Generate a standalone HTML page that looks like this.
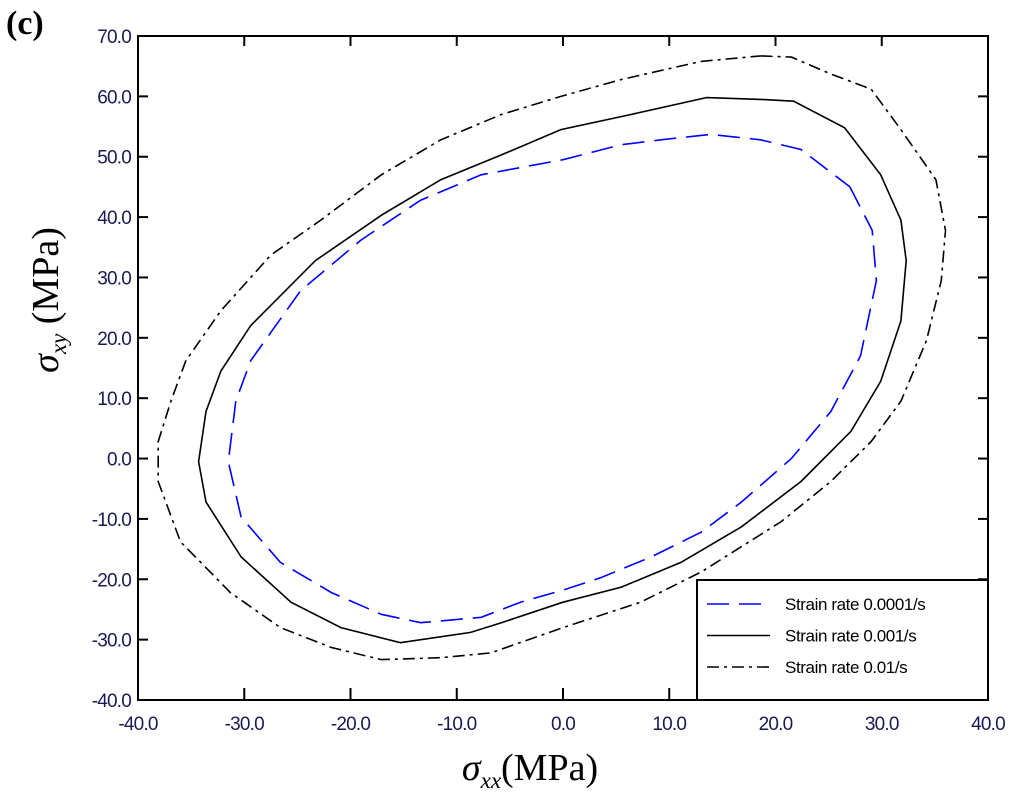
<!DOCTYPE html>
<html><head><meta charset="utf-8"><style>
html,body{margin:0;padding:0;background:#fff;}
svg{display:block;}
.tk{font-family:"Liberation Sans",sans-serif;font-size:19px;fill:#1a1a55;letter-spacing:-0.8px;}
.lg{font-family:"Liberation Sans",sans-serif;font-size:17px;fill:#000;letter-spacing:-0.4px;}
</style></head><body>
<svg id="chart" width="1024" height="804" xmlns="http://www.w3.org/2000/svg">
<text x="6" y="34" font-family="Liberation Serif,serif" font-weight="bold" font-size="34">(c)</text>
<g id="plot"></g>
<text x="530" y="780" text-anchor="middle" font-family="Liberation Serif,serif" font-size="38"><tspan font-style="italic">σ</tspan><tspan font-style="italic" font-size="23" dy="8">xx</tspan><tspan dy="-8">(MPa)</tspan></text>
<text transform="translate(58,300) rotate(-90)" text-anchor="middle" font-family="Liberation Serif,serif" font-size="38"><tspan font-style="italic">σ</tspan><tspan font-style="italic" font-size="23" dy="8">xy</tspan><tspan dy="-8"> (MPa)</tspan></text>
</svg>
<script>
const xTicks=[-40,-30,-20,-10,0,10,20,30,40];
const yTicks=[-40,-30,-20,-10,0,10,20,30,40,50,60,70];
const seriesNames=["Strain rate 0.0001/s","Strain rate 0.001/s","Strain rate 0.01/s"];
const s1x=[27,29.1,29.5,28,25.2,21.5,16.8,13,8.3,3.6,0,-4,-7.7,-13.4,-17.1,-21.8,-26.6,-30.3,-31.5,-30.8,-29.4,-24.7,-19,-13.4,-7.7,0,5.5,9.2,13.9,18.6,22.4,27];
const s1y=[45,37.8,29.5,17,7.8,0,-7.2,-12.2,-16.3,-19.7,-21.8,-23.8,-26.3,-27.2,-25.8,-22.2,-17.2,-9.7,-0.5,9.5,16.2,27.8,36.2,42.8,47,49.5,52,52.8,53.7,52.8,51.2,45];
const s2x=[13.5,18.6,21.7,26.5,29.9,31.8,32.3,31.8,29.9,27.1,22.4,16.8,11.1,5.5,0,-5.8,-8.7,-15.3,-20.9,-25.6,-30.3,-33.6,-34.3,-33.6,-32.2,-29.4,-23.3,-17.1,-11.5,-5.8,-0.2,6.4,13.5];
const s2y=[59.8,59.5,59.2,54.8,47,39.5,32.8,22.8,12.8,4.5,-3.8,-11.3,-17.2,-21.3,-23.8,-27.2,-28.8,-30.5,-28,-23.8,-16.3,-7.2,-0.5,7.8,14.5,22,32.8,40.3,46.2,50.3,54.5,57,59.8];
const s3x=[18.6,21.5,25.2,29,31.8,35.1,36,35.6,34.2,31.8,29,25.2,20.5,13,7.3,0,-6.8,-11.5,-17.1,-21.8,-26.6,-31.3,-36,-38.1,-38.1,-36.9,-35.5,-32.2,-27.5,-22.8,-17.1,-11.5,-5.8,-0.2,5.5,13,18.6];
const s3y=[66.7,66.5,63.7,61.2,54.5,46.2,37.8,29.5,19.5,9.5,2.8,-3.8,-10.5,-18.8,-23.8,-28,-32.2,-33,-33.3,-31.3,-28,-22.2,-13.8,-3.8,2.8,9.5,16.2,24.5,33.7,39.5,47,52.8,57,60,62.8,65.8,66.7];
const X0=138,X1=988,Y0=700,Y1=36;
function sx(v){return X0+(v+40)/80*(X1-X0);}
function sy(v){return Y0-(v+40)/110*(Y0-Y1);}
const NS="http://www.w3.org/2000/svg";
const g=document.getElementById('plot');
function mk(t,a){const e=document.createElementNS(NS,t);for(const k in a)e.setAttribute(k,a[k]);g.appendChild(e);return e;}
const frame=mk('rect',{x:X0,y:Y1,width:X1-X0,height:Y0-Y1,fill:'none',stroke:'#000','stroke-width':2});


xTicks.forEach(v=>{
  const l=mk('line',{x1:sx(v),x2:sx(v),y1:Y0,y2:Y0-12,stroke:'#000','stroke-width':2});
  
  
  const l2=mk('line',{x1:sx(v),x2:sx(v),y1:Y1,y2:Y1+10,stroke:'#000','stroke-width':2});
  
  
  const t=mk('text',{x:sx(v),y:Y0+30,'text-anchor':'middle',class:'tk'});t.textContent=v.toFixed(1);
  
  
});
yTicks.forEach(v=>{
  const l=mk('line',{x1:X0,x2:X0+10,y1:sy(v),y2:sy(v),stroke:'#000','stroke-width':2});
  
  
  const l2=mk('line',{x1:X1,x2:X1-10,y1:sy(v),y2:sy(v),stroke:'#000','stroke-width':2});
  
  
  const t=mk('text',{x:X0-7,y:sy(v)+7,'text-anchor':'end',class:'tk'});t.textContent=v.toFixed(1);
  
  
});
const styles=[{stroke:'#0000ff',dash:'22,10'},{stroke:'#000',dash:''},{stroke:'#000',dash:'12,5,3,5'}];
const xs=[s1x,s2x,s3x],ys=[s1y,s2y,s3y];
const names=['series-0.0001','series-0.001','series-0.01'];
xs.forEach((a,i)=>{
  const d=a.map((v,j)=>(j?'L':'M')+sx(v).toFixed(1)+','+sy(ys[i][j]).toFixed(1)).join(' ');
  const p=mk('path',{d:d,fill:'none',stroke:styles[i].stroke,'stroke-width':1.6,'stroke-dasharray':styles[i].dash});
  
  
});
const lb=mk('rect',{x:697,y:580,width:291,height:120,fill:'#fff',stroke:'#000','stroke-width':2});


seriesNames.forEach((n,i)=>{
  const y=604+i*31.5;
  const l=mk('line',{x1:707,x2:770,y1:y,y2:y,stroke:styles[i].stroke,'stroke-width':1.6,'stroke-dasharray':styles[i].dash});
  
  
  const t=mk('text',{x:785,y:y+6,class:'lg'});t.textContent=n;
  
  
});
</script>
</body></html>
